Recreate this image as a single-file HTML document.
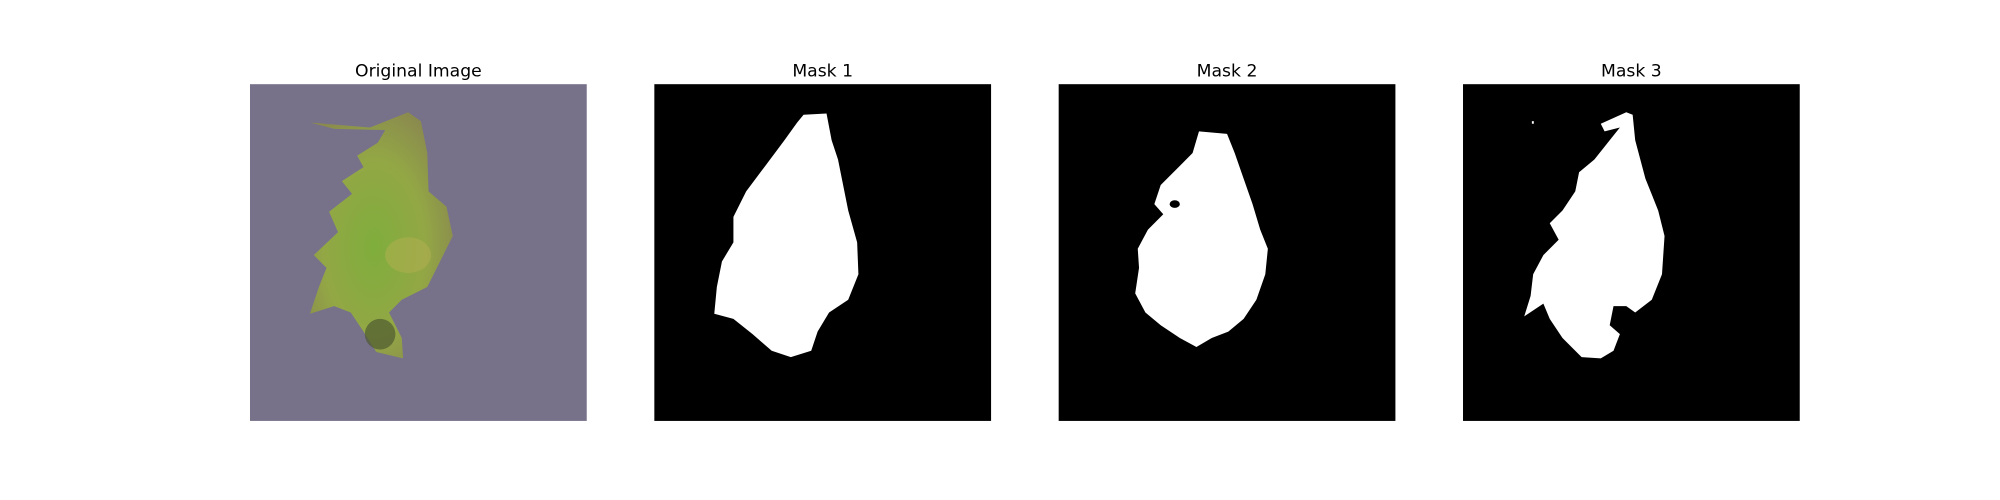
<!DOCTYPE html>
<html><head><meta charset="utf-8"><style>
html,body{margin:0;padding:0;background:#fff;width:2000px;height:500px;overflow:hidden}
svg text{font-family:"DejaVu Sans","Liberation Sans",sans-serif;font-size:13.5px;fill:#000}
</style></head><body>
<svg width="2000" height="500" viewBox="0 0 1568 392" xmlns="http://www.w3.org/2000/svg">
<defs>
<radialGradient id="lg" cx="0.45" cy="0.55" r="0.6">
<stop offset="0" stop-color="#7fae3c"/><stop offset="0.6" stop-color="#93a745"/><stop offset="1" stop-color="#8a8a4e"/>
</radialGradient>
</defs>
<g>
<text x="328" y="60" text-anchor="middle">Original Image</text>
<rect x="196" y="66" width="264" height="264" fill="#77718a"/>
<polygon fill="url(#lg)" points="243,96 290,100 320,88 330,95 335,120 336,150 350,162 355,185 345,205 335,225 315,235 305,245 315,265 316,281 295,276 285,260 275,245 262,240 243,246 250,225 256,210 246,200 265,182 258,166 276,152 268,142 285,131 280,122 296,112 302,102 262,101"/>
<ellipse cx="298" cy="262" rx="12" ry="12" fill="#4f5a30" opacity="0.7"/>
<ellipse cx="320" cy="200" rx="18" ry="14" fill="#b3b050" opacity="0.5"/>
</g>
<g>
<text x="645" y="60" text-anchor="middle">Mask 1</text>
<rect x="513" y="66" width="264" height="264" fill="#000"/>
<polygon fill="#fff" points="630,90 648,89 652,110 657,125 660,140 665,165 672,190 673,215 665,235 650,245 641,260 636,275 620,280 605,275 590,262 575,250 560,246 562,225 566,205 575,190 575,170 585,150 600,130 615,110 625,96"/>
</g>
<g>
<text x="962" y="60" text-anchor="middle">Mask 2</text>
<rect x="830" y="66" width="264" height="264" fill="#000"/>
<polygon fill="#fff" points="940,103 962,105 968,120 975,140 982,160 988,180 994,195 992,215 985,235 975,250 963,260 950,265 938,272 925,265 910,255 898,245 890,230 893,210 892,195 900,180 912,168 905,160 910,145 925,130 935,120"/>
<ellipse cx="921" cy="160" rx="4" ry="3" fill="#000"/>
</g>
<g>
<text x="1279" y="60" text-anchor="middle">Mask 3</text>
<rect x="1147" y="66" width="264" height="264" fill="#000"/>
<polygon fill="#fff" points="1255,97 1275,88 1280,90 1282,110 1290,140 1300,165 1305,185 1303,215 1295,235 1282,245 1275,240 1265,240 1262,255 1270,262 1265,275 1255,281 1240,280 1225,265 1215,250 1210,238 1195,248 1200,232 1202,215 1210,200 1222,188 1215,175 1225,165 1235,150 1238,135 1250,125 1262,110 1270,100 1258,103"/>
<rect x="1201" y="95" width="1.5" height="2" fill="#fff"/>
</g>
</svg>
</body></html>
